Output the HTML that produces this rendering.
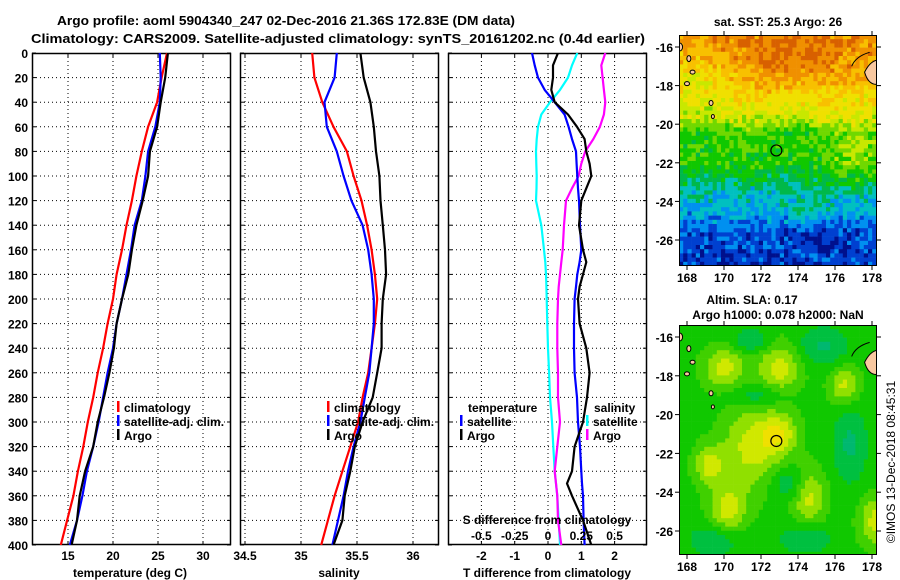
<!DOCTYPE html>
<html><head><meta charset="utf-8"><title>Argo profile</title>
<style>
html,body{margin:0;padding:0;background:#fff;}
svg{display:block;font-family:"Liberation Sans",sans-serif;font-weight:bold;}
text{fill:#000;}
</style></head>
<body>
<svg id="fig" width="900" height="580" viewBox="0 0 900 580" xmlns="http://www.w3.org/2000/svg">
<defs>
  <clipPath id="cp1"><rect x="32" y="53" width="199" height="492"/></clipPath>
  <clipPath id="cp2"><rect x="240" y="53" width="199" height="492"/></clipPath>
  <clipPath id="cp3"><rect x="448" y="53" width="199" height="492"/></clipPath>
  <clipPath id="cpm1"><rect x="679" y="35" width="198" height="231"/></clipPath>
  <clipPath id="cpm2"><rect x="679" y="325" width="198" height="230"/></clipPath>
</defs>
<g>
  <text x="286" y="25" font-size="13" text-anchor="middle" textLength="458" lengthAdjust="spacingAndGlyphs">Argo profile: aoml 5904340_247 02-Dec-2016 21.36S 172.83E (DM data)</text>
  <text x="338" y="43" font-size="13" text-anchor="middle" textLength="614" lengthAdjust="spacingAndGlyphs">Climatology: CARS2009. Satellite-adjusted climatology: synTS_20161202.nc (0.4d earlier)</text>
</g>
<g id="panels"></g>
<g id="maps"></g>
<text transform="translate(895,462) rotate(-90)" font-size="12" font-weight="normal" text-anchor="middle">©IMOS 13-Dec-2018 08:45:31</text>
</svg>
<script>
// ---------- data ----------
const depths = [0,20,40,60,80,100,120,140,160,180,200,220,240,260,280,300,320,340,360,380,400];
const tempClim = [26,25.4,24.9,23.9,23.2,22.6,22.1,21.5,21,20.4,20,19.4,18.9,18.3,17.8,17.2,16.7,16.1,15.6,14.9,14.2];
const tempSat  = [25.2,25.3,25.2,24.7,23.9,23.6,23.2,22.4,22,21.5,21,20.4,20,19.4,18.9,18.4,17.8,17.1,16.6,16,15.2];
const tempArgo = [26.1,25.8,25.3,24.9,24.1,23.9,23.3,22.6,22.1,21.7,21,20.4,20.1,19.6,19,18.3,17.8,16.9,16.3,16,15.4];
const salClim = [35.1,35.12,35.19,35.29,35.41,35.47,35.54,35.59,35.63,35.66,35.68,35.66,35.63,35.6,35.55,35.51,35.44,35.37,35.3,35.24,35.18];
const salSat  = [35.32,35.3,35.21,35.23,35.32,35.38,35.45,35.55,35.6,35.63,35.65,35.65,35.63,35.61,35.57,35.53,35.47,35.42,35.38,35.33,35.28];
const salArgo = [35.53,35.56,35.62,35.65,35.67,35.7,35.71,35.73,35.75,35.76,35.73,35.72,35.72,35.68,35.64,35.55,35.48,35.44,35.39,35.37,35.29];
const diffDepths = [0,10,20,30,40,50,60,70,80,90,100,110,120,140,160,170,180,190,200,220,240,260,280,300,320,340,350,360,380,400];
const tDiffArgo = [0.3,0.15,0.15,0.1,0.2,0.6,0.87,1.1,1.15,1.25,1.3,1.15,1.0,0.93,1.05,1.15,1.05,0.95,0.9,0.95,1.15,1.25,1.17,1.05,0.8,0.72,0.57,0.72,1.05,1.3];
const tDiffSat  = [-0.48,-0.4,-0.3,-0.1,0.2,0.5,0.62,0.72,0.84,0.86,0.88,0.9,0.93,0.96,1.0,0.95,0.88,0.84,0.8,0.78,0.78,0.8,0.87,0.9,0.96,1.0,1.02,1.05,1.07,1.1];
const sDiffSat  = [0.22,0.18,0.15,0.09,0.015,-0.05,-0.075,-0.085,-0.09,-0.088,-0.085,-0.086,-0.09,-0.05,-0.03,-0.02,-0.015,-0.012,-0.01,-0.005,0,0.008,0.015,0.03,0.04,0.05,0.06,0.07,0.08,0.09];
const sDiffArgo = [0.43,0.4,0.41,0.42,0.43,0.42,0.39,0.34,0.28,0.25,0.23,0.18,0.135,0.12,0.11,0.1,0.09,0.08,0.075,0.07,0.07,0.075,0.075,0.09,0.07,0.05,0.06,0.07,0.075,0.1];
const depthTicks = [0,20,40,60,80,100,120,140,160,180,200,220,240,260,280,300,320,340,360,380,400];
const tempTicks = [15,20,25,30];
const salTicks = [34.5,35,35.5,36];
const tDiffTicks = [-2,-1,0,1,2];
const sDiffTicks = [-0.5,-0.25,0,0.25,0.5];
const sDiffTickLabels = ["-0.5","-0.25","0","0.25","0.5"];
const lonTicks = [168,170,172,174,176,178];
const latTicks = [-16,-18,-20,-22,-24,-26];

const NS = "http://www.w3.org/2000/svg";
const svg = document.getElementById('fig');
function el(tag, attrs, parent){ const e=document.createElementNS(NS,tag); for(const k in attrs) e.setAttribute(k,attrs[k]); (parent||svg).appendChild(e); return e; }
function txt(s, attrs, parent){ const e=el('text',attrs,parent); e.textContent=s; return e; }

const Y0=53, Y1=545;
const yD = d => Y0 + d*(Y1-Y0)/400;
const xT = t => 68 + (t-15)*9;
const xS = s => 301 + (s-35)*112;
const xTd = t => 548 + t*33.3;
const xSd = s => 548 + s*133.2;

const panels = document.getElementById('panels');
function panel(name, x0, w, ticks, xf, clip){
  const g = el('g',{},panels);
  
  
  depthTicks.forEach(d=>{ if(d>0&&d<400) el('line',{x1:x0,x2:x0+w,y1:yD(d),y2:yD(d),stroke:'#000','stroke-width':1,'stroke-dasharray':'1,3'},g); });
  ticks.forEach(t=>{ const x=xf(t); el('line',{x1:x,x2:x,y1:Y0,y2:Y1,stroke:'#000','stroke-width':1,'stroke-dasharray':'1,3'},g);
    el('line',{x1:x,x2:x,y1:Y0,y2:Y0+4,stroke:'#000'},g); el('line',{x1:x,x2:x,y1:Y1,y2:Y1-4,stroke:'#000'},g); });
  depthTicks.forEach(d=>{ el('line',{x1:x0,x2:x0+4,y1:yD(d),y2:yD(d),stroke:'#000'},g); el('line',{x1:x0+w,x2:x0+w-4,y1:yD(d),y2:yD(d),stroke:'#000'},g); });
  const frame = el('rect',{x:x0+0.5,y:Y0+0.5,width:w-1,height:Y1-Y0-1,fill:'none',stroke:'#000','stroke-width':1.5},g);
  
  
  return g;
}
function series(g, name, ds, vals, xf, color, clip, sw){
  const pts = ds.map((d,i)=>xf(vals[i]).toFixed(1)+','+yD(d).toFixed(1)).join(' ');
  const p = el('polyline',{points:pts,fill:'none',stroke:color,'stroke-width':sw||2.2,'clip-path':'url(#'+clip+')','stroke-linejoin':'round'},g);
  
  
}
function legendEntry(g, name, x, y, color, label){
  const lg = el('g',{},g);
  
  
  if(color) el('rect',{x:x,y:y-11,width:2.5,height:11,fill:color},lg);
  txt(label,{x:x+7,y:y,'font-size':12},lg);
}

const yl = el('g',{},panels);


depthTicks.forEach(d=>{ txt(String(d),{x:28,y:yD(d)+5,'font-size':12,'text-anchor':'end'},yl); });

const g1 = panel('temperature-panel',32,199,tempTicks,xT,'cp1');
series(g1,'temp-climatology-line',depths,tempClim,xT,'#f00','cp1');
series(g1,'temp-satellite-line',depths,tempSat,xT,'#00f','cp1');
series(g1,'temp-argo-line',depths,tempArgo,xT,'#000','cp1');
tempTicks.forEach(t=>txt(String(t),{x:xT(t),y:560,'font-size':12,'text-anchor':'middle'},g1));
txt('temperature (deg C)',{x:130,y:577,'font-size':12,'text-anchor':'middle'},g1);
legendEntry(g1,'legend-climatology',117,412,'#f00','climatology');
legendEntry(g1,'legend-satellite-adj',117,426,'#00f','satellite-adj. clim.');
legendEntry(g1,'legend-argo',117,440,'#000','Argo');

const g2 = panel('salinity-panel',240,199,salTicks,xS,'cp2');
series(g2,'sal-climatology-line',depths,salClim,xS,'#f00','cp2');
series(g2,'sal-satellite-line',depths,salSat,xS,'#00f','cp2');
series(g2,'sal-argo-line',depths,salArgo,xS,'#000','cp2');
salTicks.forEach(t=>txt(String(t),{x:xS(t),y:560,'font-size':12,'text-anchor':'middle'},g2));
txt('salinity',{x:339,y:577,'font-size':12,'text-anchor':'middle'},g2);
legendEntry(g2,'legend-climatology-sal',327,412,'#f00','climatology');
legendEntry(g2,'legend-satellite-adj-sal',327,426,'#00f','satellite-adj. clim.');
legendEntry(g2,'legend-argo-sal',327,440,'#000','Argo');

const g3 = panel('difference-panel',448,199,tDiffTicks,xTd,'cp3');
series(g3,'sdiff-satellite-line',diffDepths,sDiffSat,xSd,'#0ff','cp3');
series(g3,'sdiff-argo-line',diffDepths,sDiffArgo,xSd,'#f0f','cp3');
series(g3,'tdiff-satellite-line',diffDepths,tDiffSat,xTd,'#00f','cp3');
series(g3,'tdiff-argo-line',diffDepths,tDiffArgo,xTd,'#000','cp3');
tDiffTicks.forEach(t=>txt(String(t),{x:xTd(t),y:560,'font-size':12,'text-anchor':'middle'},g3));
sDiffTicks.forEach((t,i)=>txt(sDiffTickLabels[i],{x:xSd(t),y:540,'font-size':12,'text-anchor':'middle'},g3));
txt('S difference from climatology',{x:547,y:524,'font-size':12,'text-anchor':'middle'},g3);
txt('T difference from climatology',{x:547,y:577,'font-size':12,'text-anchor':'middle'},g3);
legendEntry(g3,'legend-temperature-heading',461,412,null,'temperature');
legendEntry(g3,'legend-temp-satellite',460,426,'#00f','satellite');
legendEntry(g3,'legend-temp-argo',460,440,'#000','Argo');
legendEntry(g3,'legend-salinity-heading',587,412,null,'salinity');
legendEntry(g3,'legend-sal-satellite',586,426,'#0ff','satellite');
legendEntry(g3,'legend-sal-argo',586,440,'#f0f','Argo');

// ---------- maps ----------
const maps = document.getElementById('maps');
const MX0=679, MX1=877;
const lonX = lon => 687 + (lon-168)*18.5;
const cmap = ['#00108c','#0040d0','#0090f0','#00c0c0','#00b84a','#10c800','#70d800','#c8e800','#f0e000','#f8c000','#f09000','#d86000'];
function colorAt(v){ v=Math.max(0,Math.min(cmap.length-1,v)); return cmap[Math.round(v)]; }
function hash(i,j){ let h=(i*374761393 + j*668265263)|0; h=(h^(h>>>13))*1274126177|0; return ((h^(h>>>16))>>>0)/4294967296; }
function sstLevel(lat, lon){
  const L=[[-15,10.4],[-16,10.0],[-17,9.6],[-18,8.8],[-19,7.9],[-19.8,6.8],[-20.5,5.3],[-22,5.0],[-22.8,4.2],[-23.5,3.1],[-24.5,2.4],[-25.5,1.3],[-27.5,0.7]];
  let v=10.4; for(let k=0;k<L.length-1;k++){ if(lat<=L[k][0]&&lat>=L[k+1][0]){ const f=(L[k][0]-lat)/(L[k][0]-L[k+1][0]); v=L[k][1]+f*(L[k+1][1]-L[k][1]); } }
  v += 1.0*Math.exp(-(((lon-173.5)/2.5)**2+((lat+16.8)/1.2)**2));
  v -= 1.3*Math.exp(-(((lon-168.5)/1.6)**2+((lat+17.5)/1.6)**2));
  v += 1.4*Math.exp(-(((lon-177)/1.4)**2+((lat+21.5)/1.5)**2));
  v += 0.9*Math.exp(-(((lon-174.5)/1.2)**2+((lat+24.5)/0.8)**2));
  v -= 0.7*Math.exp(-(((lon-175)/1.5)**2+((lat+25.8)/0.6)**2));
  return v;
}
function drawMap(name, y0, y1, latY, fieldFn){
  const g = el('g',{},maps);
  
  
  const cells = el('g',{'clip-path':'url(#'+(name==='sst-map'?'cpm1':'cpm2')+')'},g);
  const step=4.2;
  let i=0;
  for(let y=y0;y<y1;y+=step,i++){ let j=0;
    for(let x=MX0;x<MX1;x+=step,j++){
      const lon = 168+(x+step/2-687)/18.5, lat = -16-(y+step/2-latY(-16))/((latY(-26)-latY(-16))/10);
      el('rect',{x:x.toFixed(1),y:y.toFixed(1),width:step+0.3,height:step+0.3,fill:fieldFn(lat,lon,i,j)},cells);
    }
  }
  const isl = [[168.1,-16.6,2,3],[168.3,-17.3,2.5,2],[168.0,-17.9,2.5,2],[169.3,-18.9,2,2.5],[169.4,-19.6,1.5,2],[167.6,-16.0,3,4]];
  isl.forEach(s=>el('ellipse',{cx:lonX(s[0]),cy:latY(s[1]),rx:s[2],ry:s[3],fill:'#f8c8a0',stroke:'#000','stroke-width':1},cells));
  el('path',{d:`M${lonX(177.6)},${latY(-17.3)} q6,-12 14,-12 v24 q-10,2 -14,-12 z`,fill:'#f8c8a0',stroke:'#000','stroke-width':1},cells);
  el('path',{d:`M${lonX(176.9)},${latY(-17.0)} q4,-10 18,-14`,fill:'none',stroke:'#000','stroke-width':1},cells);
  const mk = el('circle',{cx:lonX(172.83),cy:latY(-21.36),r:5.5,fill:'none',stroke:'#000','stroke-width':1.2},g);
  
  
  el('rect',{x:MX0+0.5,y:y0+0.5,width:MX1-MX0-1,height:y1-y0-1,fill:'none',stroke:'#000','stroke-width':1},g);
  lonTicks.forEach(l=>{ const x=lonX(l); el('line',{x1:x,x2:x,y1:y0,y2:y0-4,stroke:'#000'},g); el('line',{x1:x,x2:x,y1:y1,y2:y1+4,stroke:'#000'},g);
    txt(String(l),{x:x,y:y1+16,'font-size':12,'text-anchor':'middle'},g); });
  latTicks.forEach(l=>{ const y=latY(l); el('line',{x1:MX0,x2:MX0-4,y1:y,y2:y,stroke:'#000'},g); el('line',{x1:MX1,x2:MX1+4,y1:y,y2:y,stroke:'#000'},g);
    txt(String(l),{x:673,y:y+5,'font-size':12,'text-anchor':'end'},g); });
  return g;
}
const latY1 = lat => 47 + (-16-lat)*19.3;
const gm1 = drawMap('sst-map',35,266,latY1,(lat,lon,i,j)=>colorAt(sstLevel(lat,lon)+(hash(i,j)-0.5)*1.8));
txt('sat. SST: 25.3 Argo: 26',{x:778,y:26,'font-size':12,'text-anchor':'middle'},gm1);

const blobs = [[171.5,-21.7,1.6,2.2],[170.2,-24.9,1.0,1.3],[174.6,-24.2,0.9,1.4],[178.2,-25.5,0.9,1.3],[169.2,-22.6,0.8,1.0],[170.0,-17.6,1.1,1.1],[173.0,-17.6,1.2,1.4],[176.5,-18.5,0.8,1.0],[173.0,-21.0,1.0,1.0]];
const lows = [[169.5,-26.5,1.3,0.8],[174.4,-26.4,1.3,0.7],[176.8,-21.5,0.9,2.0],[173.5,-23.6,1.0,0.8],[171.8,-19.0,1.6,0.6],[175.3,-16.5,1.4,1.0],[171.5,-16.2,1.0,0.6]];
const sla = (lat,lon)=>{ let v=4.6; blobs.forEach(b=>{ v+=2.8*Math.exp(-(((lon-b[0])/b[2])**2+((lat-b[1])/b[3])**2)); });
  lows.forEach(b=>{ v-=1.8*Math.exp(-(((lon-b[0])/b[2])**2+((lat-b[1])/b[3])**2)); }); return v; };
const slaMap = ['#00b8a0','#00b870','#00c040','#10c800','#40d000','#90e000','#d0e800','#f0e000','#f0c800'];
const latY2 = lat => 337 + (-16-lat)*19.4;
const gm2 = drawMap('sla-map',325,555,latY2,(lat,lon)=>{ const v=Math.max(0,Math.min(8,sla(lat,lon)-1.5)); return slaMap[Math.round(v)]; });
txt('Altim. SLA: 0.17',{x:752,y:304,'font-size':12,'text-anchor':'middle'},gm2);
txt('Argo h1000: 0.078 h2000: NaN',{x:778,y:319,'font-size':12,'text-anchor':'middle'},gm2);
</script>
</body></html>
